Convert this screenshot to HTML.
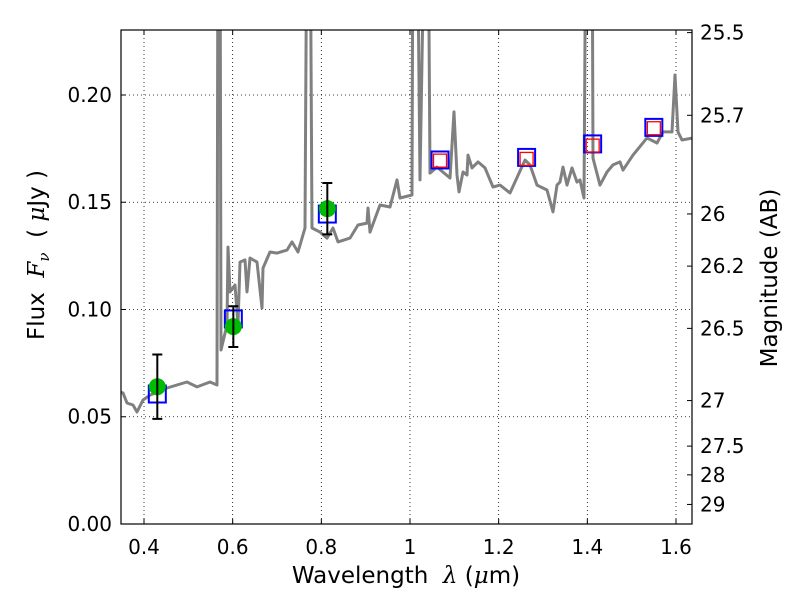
<!DOCTYPE html>
<html><head><meta charset="utf-8"><style>
html,body{margin:0;padding:0;background:#fff;}
svg text{font-family:"DejaVu Sans","Liberation Sans",sans-serif;}
</style></head><body>
<svg id="chart" width="800" height="600" xmlns="http://www.w3.org/2000/svg">
<rect x="0" y="0" width="800" height="600" fill="#fff"/>
<g id="grid"></g>
<defs><clipPath id="clip"><rect x="121" y="30" width="571" height="494"/></clipPath></defs>
<g id="plot" clip-path="url(#clip)"></g>
<rect x="121" y="30" width="571" height="494" fill="none" stroke="#000" stroke-width="1.2"/>
<g id="axes"></g>
<text x="406" y="583" text-anchor="middle" font-size="23" xml:space="preserve">Wavelength  <tspan font-family="DejaVu Serif,serif" font-style="italic">λ</tspan> (<tspan font-family="DejaVu Serif,serif" font-style="italic">μ</tspan>m)</text>
<text transform="translate(44,255) rotate(-90)" text-anchor="middle" font-size="23" xml:space="preserve">Flux  <tspan font-family="DejaVu Serif,serif" font-style="italic">F</tspan><tspan font-family="DejaVu Serif,serif" font-style="italic" font-size="15" dy="5">ν</tspan><tspan dy="-5">  ( </tspan><tspan font-family="DejaVu Serif,serif" font-style="italic">μ</tspan>Jy )</text>
<text transform="translate(777,278) rotate(-90)" text-anchor="middle" font-size="23">Magnitude (AB)</text>
</svg>
<script>
const specLam=[0.3459,0.3526,0.3617,0.3752,0.3842,0.3977,0.4135,0.4519,0.4970,0.5196,0.5489,0.5647,0.5669,0.5714,0.5737,0.5872,0.5895,0.5940,0.6053,0.6120,0.6166,0.6278,0.6323,0.6391,0.6549,0.6662,0.6684,0.6842,0.7000,0.7226,0.7338,0.7474,0.7632,0.7677,0.7744,0.7790,0.7970,0.8128,0.8263,0.8376,0.8647,0.8827,0.9030,0.9053,0.9098,0.9323,0.9549,0.9707,0.9775,1.0045,1.0068,1.0158,1.0226,1.0339,1.0406,1.0451,1.0609,1.0902,1.0993,1.1060,1.1106,1.1196,1.1286,1.1309,1.1399,1.1534,1.1692,1.1873,1.2030,1.2256,1.2594,1.2707,1.2865,1.3091,1.3226,1.3316,1.3384,1.3452,1.3542,1.3654,1.3767,1.3835,1.3925,1.3970,1.4106,1.4128,1.4286,1.4444,1.4579,1.4737,1.4805,1.5030,1.5346,1.5571,1.5707,1.5910,1.5977,1.6045,1.6135,1.6383];
const specFlux=[0.0615,0.0611,0.0564,0.0555,0.0522,0.0578,0.0601,0.0634,0.0662,0.0639,0.0662,0.0648,0.30,0.30,0.0811,0.0928,0.1291,0.1082,0.1114,0.0928,0.1221,0.1231,0.1082,0.1240,0.1221,0.1007,0.1193,0.1268,0.1263,0.1277,0.1315,0.1268,0.1380,0.30,0.30,0.1380,0.1361,0.1333,0.1380,0.1315,0.1333,0.1394,0.1403,0.1473,0.1361,0.1487,0.1478,0.1604,0.1520,0.1534,0.30,0.30,0.1604,0.30,0.30,0.1636,0.1664,0.1613,0.1921,0.1627,0.1548,0.1641,0.1627,0.1720,0.1660,0.1688,0.1660,0.1571,0.1580,0.1543,0.1697,0.1674,0.1580,0.1557,0.1455,0.1580,0.1594,0.1664,0.1580,0.1660,0.1594,0.1604,0.1520,0.30,0.30,0.1706,0.1580,0.1641,0.1674,0.1688,0.1650,0.1720,0.1800,0.1776,0.1828,0.1828,0.2093,0.1828,0.1790,0.1800];
const obsLam=[0.430,0.6015,0.8135];
const obsFlux=[0.064,0.092,0.147];
const obsErr=[0.015,0.0095,0.012];
const modelLam=[0.430,0.6015,0.8135,1.0677,1.263,1.412,1.550];
const modelFlux=[0.0606,0.0956,0.1445,0.1697,0.1709,0.1772,0.1849];
const predLam=[1.0677,1.263,1.412,1.550];
const predFlux=[0.1694,0.1702,0.1764,0.1845];
const xTicks=[0.4,0.6,0.8,1.0,1.2,1.4,1.6];
const xTickLabels=["0.4","0.6","0.8","1","1.2","1.4","1.6"];
const yTicks=[0,0.05,0.10,0.15,0.20];
const yTickLabels=["0.00","0.05","0.10","0.15","0.20"];
const magTicks=[25.5,25.7,26,26.2,26.5,27,27.5,28,29];
const magTickLabels=["25.5","25.7","26","26.2","26.5","27","27.5","28","29"];

const X0=121,X1=692,Y0=524,Y1=30,LMIN=0.3481,LMAX=1.6361,FMIN=0,FMAX=0.2303;
const sx=v=>X0+(v-LMIN)/(LMAX-LMIN)*(X1-X0);
const sy=v=>Y0-(v-FMIN)/(FMAX-FMIN)*(Y0-Y1);
const NS="http://www.w3.org/2000/svg";
function mk(parent,tag,attrs){const e=document.createElementNS(NS,tag);for(const k in attrs)e.setAttribute(k,attrs[k]);parent.appendChild(e);return e;}
const grid=document.getElementById('grid'),plot=document.getElementById('plot'),axes=document.getElementById('axes');

xTicks.forEach((t,i)=>{
  const x=sx(t);
  const g=mk(grid,'line',{x1:x,x2:x,y1:Y1,y2:Y0,stroke:'#000','stroke-width':0.8,'stroke-dasharray':'1,3'});
  
  
  const a=mk(axes,'line',{x1:x,x2:x,y1:Y0,y2:Y0-5,stroke:'#000'});
  
  
  const b=mk(axes,'line',{x1:x,x2:x,y1:Y1,y2:Y1+5,stroke:'#000'});
  
  
  const l=mk(axes,'text',{x:x,y:554,'text-anchor':'middle','font-size':20});
  l.textContent=xTickLabels[i];
  
  
});
yTicks.forEach((t,i)=>{
  const y=sy(t);
  const g=mk(grid,'line',{x1:X0,x2:X1,y1:y,y2:y,stroke:'#000','stroke-width':0.8,'stroke-dasharray':'1,3'});
  
  
  const a=mk(axes,'line',{x1:X0,x2:X0+5,y1:y,y2:y,stroke:'#000'});
  
  
  const l=mk(axes,'text',{x:112,y:y+7,'text-anchor':'end','font-size':20});
  l.textContent=yTickLabels[i];
  
  
});
magTicks.forEach((m,i)=>{
  const y=sy(Math.pow(10,(23.9-m)/2.5));
  const a=mk(axes,'line',{x1:X1,x2:X1-5,y1:y,y2:y,stroke:'#000'});
  
  
  const l=mk(axes,'text',{x:700,y:y+7,'text-anchor':'start','font-size':20});
  l.textContent=magTickLabels[i];
  
  
});

const pts=specLam.map((l,i)=>sx(l).toFixed(1)+','+sy(specFlux[i]).toFixed(1)).join(' ');
const sp=mk(plot,'polyline',{points:pts,fill:'none',stroke:'#808080','stroke-width':3,'stroke-linejoin':'round'});



modelLam.forEach((l,i)=>{
  const s=mk(plot,'rect',{x:sx(l)-8.5,y:sy(modelFlux[i])-8.5,width:17,height:17,fill:'none',stroke:'#0000ff','stroke-width':2});
  
  
});
predLam.forEach((l,i)=>{
  const s=mk(plot,'rect',{x:sx(l)-6.5,y:sy(predFlux[i])-6.5,width:13,height:13,fill:'none',stroke:'#ff0000','stroke-width':1.3});
  
  
});
obsLam.forEach((l,i)=>{
  const x=sx(l),yt=sy(obsFlux[i]+obsErr[i]),yb=sy(obsFlux[i]-obsErr[i]);
  const c=mk(plot,'circle',{cx:x,cy:sy(obsFlux[i]),r:8.5,fill:'#00bb00'});
  
  
  const e=mk(plot,'path',{d:`M${x},${yt}V${yb}M${x-5},${yt}H${x+5}M${x-5},${yb}H${x+5}`,stroke:'#000','stroke-width':2,fill:'none'});
  
  
});
</script>
</body></html>
